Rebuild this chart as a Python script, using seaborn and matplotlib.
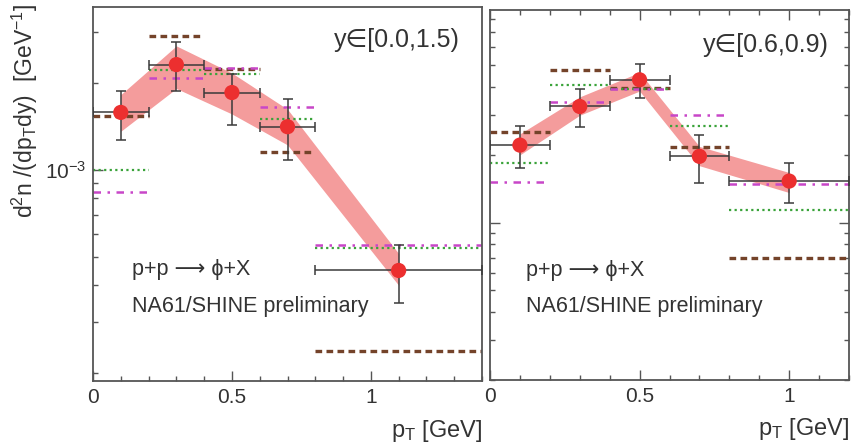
import numpy as np
import pandas as pd
import matplotlib
matplotlib.use("Agg")
import matplotlib.pyplot as plt
import seaborn as sns
from matplotlib.ticker import LogLocator, NullFormatter, MultipleLocator, FuncFormatter

sns.set_theme(style="ticks")
plt.rcParams["font.family"] = ["Liberation Sans", "DejaVu Sans"]
plt.rcParams["mathtext.default"] = "regular"

# ---------------- data: left panel y in [0.0,1.5) ----------------
L_pt = [0.1, 0.3, 0.5, 0.7, 1.1]
L_xerr = [0.1, 0.1, 0.1, 0.1, 0.3]
L_val = [1.58e-3, 2.31e-3, 1.85e-3, 1.41e-3, 4.5e-4]
L_err_hi = [1.87e-3, 2.76e-3, 2.14e-3, 1.76e-3, 5.53e-4]
L_err_lo = [1.27e-3, 1.87e-3, 1.43e-3, 1.08e-3, 3.48e-4]
L_band_hi = [1.82e-3, 2.68e-3, 2.16e-3, 1.62e-3, 5.15e-4]
L_band_lo = [1.36e-3, 1.91e-3, 1.56e-3, 1.22e-3, 4.0e-4]
L_edges = [0.0, 0.2, 0.4, 0.6, 0.8, 1.4]
L_brown = [1.53e-3, 2.90e-3, 2.23e-3, 1.15e-3, 2.37e-4]
L_green = [1.00e-3, 2.22e-3, 2.15e-3, 1.50e-3, 5.4e-4]
L_magenta = [8.4e-4, 2.07e-3, 2.24e-3, 1.65e-3, 5.5e-4]

# ---------------- data: right panel y in [0.6,0.9) ----------------
R_pt = [0.1, 0.3, 0.5, 0.7, 1.0]
R_xerr = [0.1, 0.1, 0.1, 0.1, 0.2]
R_val = [2.21e-3, 3.28e-3, 4.31e-3, 1.97e-3, 1.53e-3]
R_err_hi = [2.68e-3, 3.93e-3, 5.07e-3, 2.44e-3, 1.84e-3]
R_err_lo = [1.75e-3, 2.65e-3, 3.59e-3, 1.50e-3, 1.22e-3]
R_band_hi = [2.48e-3, 3.62e-3, 4.65e-3, 2.18e-3, 1.67e-3]
R_band_lo = [2.00e-3, 3.00e-3, 3.84e-3, 1.79e-3, 1.36e-3]
R_edges = [0.0, 0.2, 0.4, 0.6, 0.8, 1.2]
R_brown = [2.52e-3, 4.77e-3, 3.95e-3, 2.16e-3, 7.0e-4]
R_green = [1.84e-3, 4.10e-3, 3.93e-3, 2.68e-3, 1.14e-3]
R_magenta = [1.52e-3, 3.45e-3, 3.93e-3, 3.02e-3, 1.49e-3]

rapidity_labels = ["y\u2208[0.0,1.5)", "y\u2208[0.6,0.9)"]
reaction = "p+p \u27f6 \u03d5+X"
prelim = "NA61/SHINE preliminary"

RED = "#ec2f2f"
BAND = "#f49c9c"
BROWN = "#74432a"
GREEN = "#3aa33a"
MAGENTA = "#c846c8"
ERR = "#3a3a3a"
SPINE = "#555555"
TXT = "#333333"

model_styles = {
    "brown": dict(color=BROWN, lw=2.4, ls=(0, (2.0, 1.3))),
    "green": dict(color=GREEN, lw=1.6, ls=(0, (1.0, 1.5))),
    "magenta": dict(color=MAGENTA, lw=1.8, ls=(0, (3.0, 2.6, 1.0, 2.6))),
}

fig = plt.figure(figsize=(8.55, 4.48), dpi=100)
axL = fig.add_axes([93 / 855, 67 / 448, 389 / 855, 374 / 448])
axR = fig.add_axes([490 / 855, 68 / 448, 359 / 855, 370 / 448])


def draw_panel(ax, pt, xerr, val, ehi, elo, bhi, blo, edges, models, xlim, ylim, label, ly):
    ax.set_yscale("log")
    ax.fill_between(pt, blo, bhi, color=BAND, lw=0, zorder=1)
    for name, vals in models.items():
        st = model_styles[name]
        ax.hlines(vals, edges[:-1], edges[1:], colors=st["color"], lw=st["lw"],
                  linestyles=[st["ls"]], zorder=2)
    v = np.array(val)
    ax.errorbar(pt, val, xerr=xerr, yerr=[v - np.array(elo), np.array(ehi) - v],
                fmt="none", ecolor=ERR, elinewidth=1.1, capsize=3.5, capthick=1.1,
                zorder=3)
    df = pd.DataFrame({"pT": pt, "val": val})
    sns.scatterplot(data=df, x="pT", y="val", ax=ax, s=120, color=RED,
                    edgecolor="none", zorder=4, legend=False)
    ax.set_xlim(*xlim)
    ax.set_ylim(*ylim)
    ax.set_xlabel("")
    ax.set_ylabel("")
    ax.xaxis.set_major_locator(MultipleLocator(0.5))
    ax.xaxis.set_minor_locator(MultipleLocator(0.1))
    ax.xaxis.set_major_formatter(FuncFormatter(lambda x, p: f"{x:g}"))
    ax.yaxis.set_major_locator(LogLocator(base=10))
    ax.yaxis.set_minor_locator(LogLocator(base=10, subs=np.arange(2, 10)))
    ax.yaxis.set_minor_formatter(NullFormatter())
    for s in ax.spines.values():
        s.set_color(SPINE)
        s.set_linewidth(1.3)
    ax.tick_params(which="both", direction="in", color=SPINE, width=1.0,
                   labelsize=15, labelcolor=TXT, pad=5)
    ax.tick_params(which="major", length=7)
    ax.tick_params(which="minor", length=3.5)
    ax.text(0.943, ly, label, transform=ax.transAxes, ha="right", va="center",
            fontsize=18, color=TXT)
    ax.text(0.10, 0.297, reaction, transform=ax.transAxes, ha="left", va="center",
            fontsize=15.5, color=TXT)
    ax.text(0.10, 0.198, prelim, transform=ax.transAxes, ha="left", va="center",
            fontsize=15.5, color=TXT)
    ax.text(1.0, -0.133, "p$_{T}$ [GeV]", transform=ax.transAxes, ha="right",
            va="center", fontsize=17, color=TXT)


draw_panel(axL, L_pt, L_xerr, L_val, L_err_hi, L_err_lo, L_band_hi, L_band_lo, L_edges,
           {"brown": L_brown, "green": L_green, "magenta": L_magenta},
           (0, 1.4), (1.87e-4, 3.65e-3), rapidity_labels[0], 0.912)
draw_panel(axR, R_pt, R_xerr, R_val, R_err_hi, R_err_lo, R_band_hi, R_band_lo, R_edges,
           {"brown": R_brown, "green": R_green, "magenta": R_magenta},
           (0, 1.2), (2.0e-4, 8.8e-3), rapidity_labels[1], 0.905)

axL.tick_params(which="both", top=False, right=False)
axR.tick_params(which="both", top=True, right=True, labelleft=False)
axR.yaxis.set_major_formatter(NullFormatter())

fig.text(25 / 855, 1 - 4 / 448, "d$^{2}$n /(dp$_{T}$dy)  [GeV$^{-1}$]", rotation=90,
         ha="center", va="top", fontsize=16.5, color=TXT)

fig.savefig("out.png", dpi=100, facecolor="white")
